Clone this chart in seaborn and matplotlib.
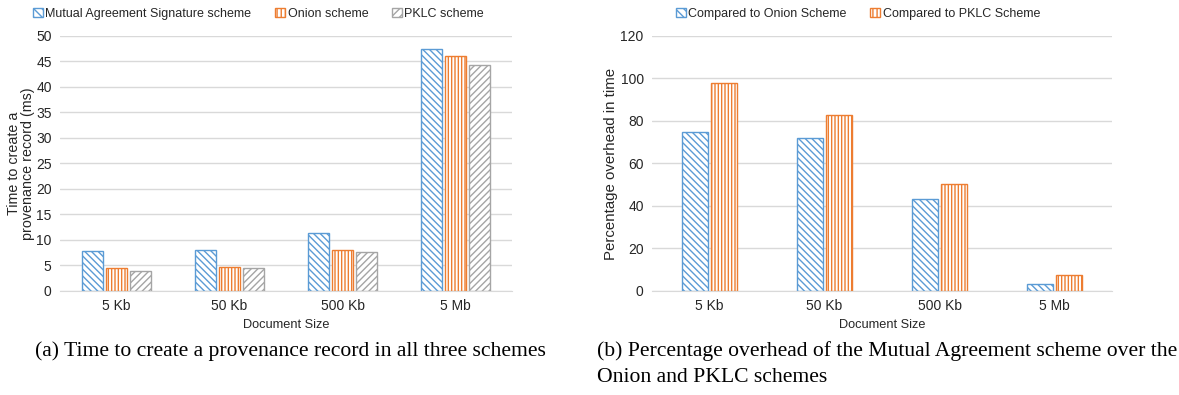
import pandas as pd
import numpy as np
import matplotlib.pyplot as plt
import seaborn as sns
from matplotlib.patches import Patch

sizes = ["5 Kb", "50 Kb", "500 Kb", "5 Mb"]

mas_time = [7.9, 8.1, 11.4, 47.5]
onion_time = [4.6, 4.8, 8.0, 46.0]
pklc_time = [4.0, 4.5, 7.6, 44.3]

over_onion = [75, 72, 43.5, 3.5]
over_pklc = [98, 83, 50.5, 7.5]

left_names = ["Mutual Agreement Signature scheme", "Onion scheme", "PKLC scheme"]
right_names = ["Compared to Onion Scheme", "Compared to PKLC Scheme"]

blue = "#5B9BD5"
orange = "#ED7D31"
gray = "#A5A5A5"

sns.set_style("white")
plt.rcParams["font.family"] = ["Liberation Sans", "DejaVu Sans"]
plt.rcParams["hatch.linewidth"] = 1.0

df_left = pd.DataFrame({
    "size": sizes * 3,
    "value": mas_time + onion_time + pklc_time,
    "scheme": [left_names[0]] * 4 + [left_names[1]] * 4 + [left_names[2]] * 4,
})

df_right = pd.DataFrame({
    "size": sizes * 2,
    "value": over_onion + over_pklc,
    "scheme": [right_names[0]] * 4 + [right_names[1]] * 4,
})

fig = plt.figure(figsize=(11.79, 3.95), dpi=100)
ax1 = fig.add_axes([0.0509, 0.2633, 0.3834, 0.6456])
ax2 = fig.add_axes([0.553, 0.2633, 0.3902, 0.6456])


def style_bars(ax, colors, hatches, n):
    # seaborn draws hue groups in order, 4 bars per group
    for i, bar in enumerate(ax.patches[:n * 4]):
        k = i // 4
        bar.set_facecolor("white")
        bar.set_edgecolor(colors[k])
        bar.set_hatch(hatches[k])
        bar.set_linewidth(1.0)


def style_axis(ax, ymax, step):
    ax.set_ylim(0, ymax)
    ax.set_yticks(np.arange(0, ymax + 1, step))
    ax.set_xlim(-0.5, 3.5)
    ax.yaxis.grid(True, color="#D9D9D9", linewidth=1.0)
    ax.set_axisbelow(True)
    for s in ["top", "right", "left"]:
        ax.spines[s].set_visible(False)
    ax.spines["bottom"].set_color("#D9D9D9")
    ax.tick_params(axis="both", length=0, labelsize=10, colors="#262626", pad=6)
    ax.set_xlabel("Document Size", fontsize=9.2, color="#262626", labelpad=4)


sns.barplot(data=df_left, x="size", y="value", hue="scheme", ax=ax1,
            width=0.63, gap=0.12, legend=False)
style_bars(ax1, [blue, orange, gray], ["\\\\\\\\\\", "|||||", "/////"], 3)
style_axis(ax1, 50, 5)
ax1.set_ylabel("Time to create a\nprovenance record (ms)", fontsize=10.3,
               color="#262626", labelpad=1, linespacing=1.0)

sns.barplot(data=df_right, x="size", y="value", hue="scheme", ax=ax2,
            width=0.51, gap=0.11, legend=False)
style_bars(ax2, [blue, orange], ["\\\\\\\\\\", "|||||"], 2)
style_axis(ax2, 120, 20)
ax2.set_ylabel("Percentage overhead in time", fontsize=10.8, color="#262626",
               labelpad=2)

h1 = [Patch(facecolor="white", edgecolor=c, hatch=h, label=l)
      for c, h, l in zip([blue, orange, gray], ["\\\\\\\\", "||||", "////"], left_names)]
ax1.legend(handles=h1, loc="lower center", bbox_to_anchor=(0.439, 1.02), ncol=3,
           frameon=False, fontsize=9, handlelength=0.8, handleheight=0.8,
           handletextpad=0.2, columnspacing=1.9, labelcolor="#262626")

h2 = [Patch(facecolor="white", edgecolor=c, hatch=h, label=l)
      for c, h, l in zip([blue, orange], ["\\\\\\\\", "||||"], right_names)]
ax2.legend(handles=h2, loc="lower center", bbox_to_anchor=(0.448, 1.02), ncol=2,
           frameon=False, fontsize=9, handlelength=0.8, handleheight=0.8,
           handletextpad=0.2, columnspacing=1.9, labelcolor="#262626")

cap = dict(fontsize=15.6, family=["Liberation Serif", "DejaVu Serif"], color="black")
fig.text(35 / 1179, 1 - 351 / 395, "(a) Time to create a provenance record in all three schemes",
         va="center", ha="left", **cap)
fig.text(597 / 1179, 1 - 351 / 395,
         "(b) Percentage overhead of the Mutual Agreement scheme over the",
         va="center", ha="left", **cap)
fig.text(597 / 1179, 1 - 378 / 395, "Onion and PKLC schemes",
         va="center", ha="left", **cap)

fig.savefig("out.png", dpi=100)
plt.close()
